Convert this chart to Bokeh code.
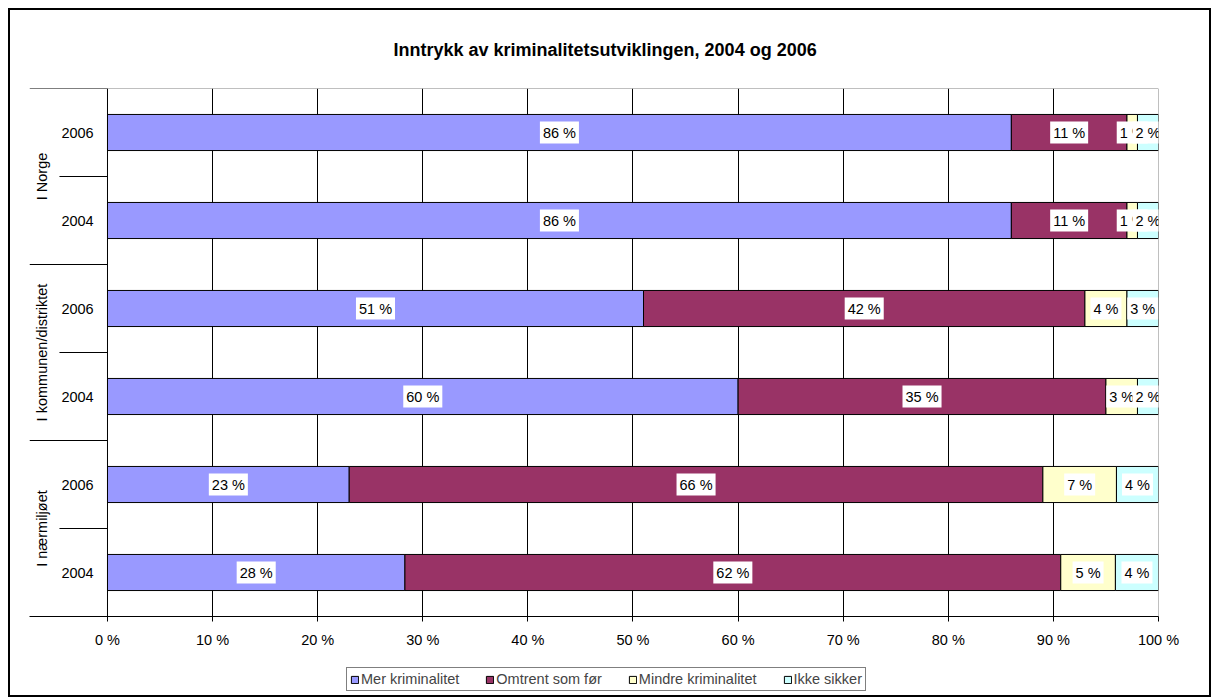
import numpy as np
from bokeh.plotting import figure
from bokeh.layouts import column
from bokeh.models import ColumnDataSource, FixedTicker, Range1d, InlineStyleSheet
from bokeh.core.properties import value
from bokeh.embed import file_html
from bokeh.resources import INLINE

# ---- data (bottom to top) ----
group_names = ["I nærmiljøet", "I kommunen/distriktet", "I Norge"]
year_labels = ["2004", "2006", "2004", "2006", "2004", "2006"]
series_names = ["Mer kriminalitet", "Omtrent som før", "Mindre kriminalitet", "Ikke sikker"]
mer = [28.3, 23, 60, 51, 86, 86]
omtrent = [62.4, 66, 35, 42, 11, 11]
mindre = [5.2, 7, 3, 4, 1, 1]
ikke = [4.1, 4, 2, 3, 2, 2]
x_ticks = [0, 10, 20, 30, 40, 50, 60, 70, 80, 90, 100]
title_text = "Inntrykk av kriminalitetsutviklingen, 2004 og 2006"

colors = ["#9999FF", "#993366", "#FFFFCC", "#CCFFFF"]
FONT = value("Liberation Sans")
FS = "14.5px"
W = 1203

ypos = [i + 0.5 for i in range(len(year_labels))]
keys = ["s0", "s1", "s2", "s3"]
vals = [mer, omtrent, mindre, ikke]
src = ColumnDataSource(dict(y=ypos, **{k: v for k, v in zip(keys, vals)}))

X0 = -7.42
p = figure(width=W, height=658, x_range=Range1d(X0, 100), y_range=Range1d(0, 6),
           output_backend="svg", toolbar_location=None, y_axis_location=None,
           min_border_left=21, min_border_right=53, min_border_top=80, min_border_bottom=50)
p.outline_line_color = None
p.background_fill_color = "white"
p.border_fill_color = "white"

# title
p.title.text = title_text
p.title.align = "left"
p.title.offset = 364
p.title.standoff = 57
p.title.text_font = "Liberation Sans"
p.title.text_font_size = "18px"
p.title.text_font_style = "bold"
p.title.text_color = "black"

# grid
p.ygrid.visible = False
p.xgrid.ticker = FixedTicker(ticks=x_ticks[1:-1])
p.xgrid.grid_line_color = "black"
p.xgrid.grid_line_width = 1

# x axis
ax = p.xaxis[0]
ax.ticker = FixedTicker(ticks=x_ticks)
ax.major_label_overrides = {t: f"{t} %" for t in x_ticks}
ax.minor_tick_line_color = None
ax.major_tick_in = 0
ax.major_tick_out = 5
ax.major_label_standoff = 10
ax.axis_line_color = "black"
ax.major_tick_line_color = "black"
ax.major_label_text_font = "Liberation Sans"
ax.major_label_text_font_size = FS
ax.major_label_text_color = "black"

# bars
p.hbar_stack(keys, y="y", height=0.41, color=colors, line_color="black", line_width=1, source=src)

# plot-area border lines
p.segment(x0=[0, 100], y0=[6, 0], x1=[100, 100], y1=[6, 6], line_color="#808080", line_width=1)
p.segment(x0=[0], y0=[0], x1=[0], y1=[6], line_color="black", line_width=1)
# category separators
p.segment(x0=[X0] * 3, y0=[6, 4, 2], x1=[0] * 3, y1=[6, 4, 2], line_color="black", line_width=1)
p.segment(x0=[-4.57] * 3, y0=[5, 3, 1], x1=[0] * 3, y1=[5, 3, 1], line_color="black", line_width=1)

# data labels
left = [0.0] * len(ypos)
for v in vals:
    xs = [l + a / 2 for l, a in zip(left, v)]
    txt = [f"{round(a)} %" for a in v]
    p.text(x=xs, y=ypos, text=txt, text_align="center", text_baseline="middle",
           text_font=FONT, text_font_size=FS, text_color="black",
           background_fill_color="white", padding=3)
    left = [l + a for l, a in zip(left, v)]

# category labels
p.text(x=[-2.85] * len(ypos), y=ypos, text=year_labels, text_align="center", text_baseline="middle",
       text_font=FONT, text_font_size=FS, text_color="black")
p.text(x=[-6.23] * 3, y=[1, 3, 5], text=group_names, angle=np.pi / 2, text_align="center",
       text_baseline="middle", text_font=FONT, text_font_size=FS, text_color="black")

# legend strip (its bars lie far outside its visible range; only the legend shows)
lf = figure(width=W, height=31, x_range=Range1d(1000, 1001), y_range=Range1d(1000, 1001),
            output_backend="svg", toolbar_location=None,
            x_axis_location=None, y_axis_location=None,
            min_border_left=21, min_border_right=53, min_border_top=0, min_border_bottom=0)
lf.outline_line_color = None
lf.grid.visible = False
lf.border_fill_color = "white"
lf.background_fill_color = "white"
lf.hbar_stack(keys, y="y", height=0.41, color=colors, line_color="black", line_width=1,
              source=src, legend_label=series_names)
lg = lf.legend[0]
lg.orientation = "horizontal"
lg.location = (317, 6)
lg.border_line_color = "black"
lg.border_line_width = 1
lg.background_fill_color = "white"
lg.background_fill_alpha = 1
lg.padding = 3
lg.spacing = 26
lg.margin = 0
lg.glyph_width = 9
lg.glyph_height = 9
lg.label_standoff = 2
lg.label_text_font = "Liberation Sans"
lg.label_text_font_size = FS
lg.label_height = 12

layout = column(p, lf, spacing=0)
layout.styles = {"margin": "8px 0 0 8px", "background-color": "white"}
layout.stylesheets = [InlineStyleSheet(css=(
    ":host { position: relative; }"
    ":host::after { content: ''; position: absolute; left: 0; top: 0; right: 0; bottom: 0;"
    " border: 2px solid black; pointer-events: none; z-index: 100; }"))]

open("out.html", "w").write(file_html(layout, INLINE))
